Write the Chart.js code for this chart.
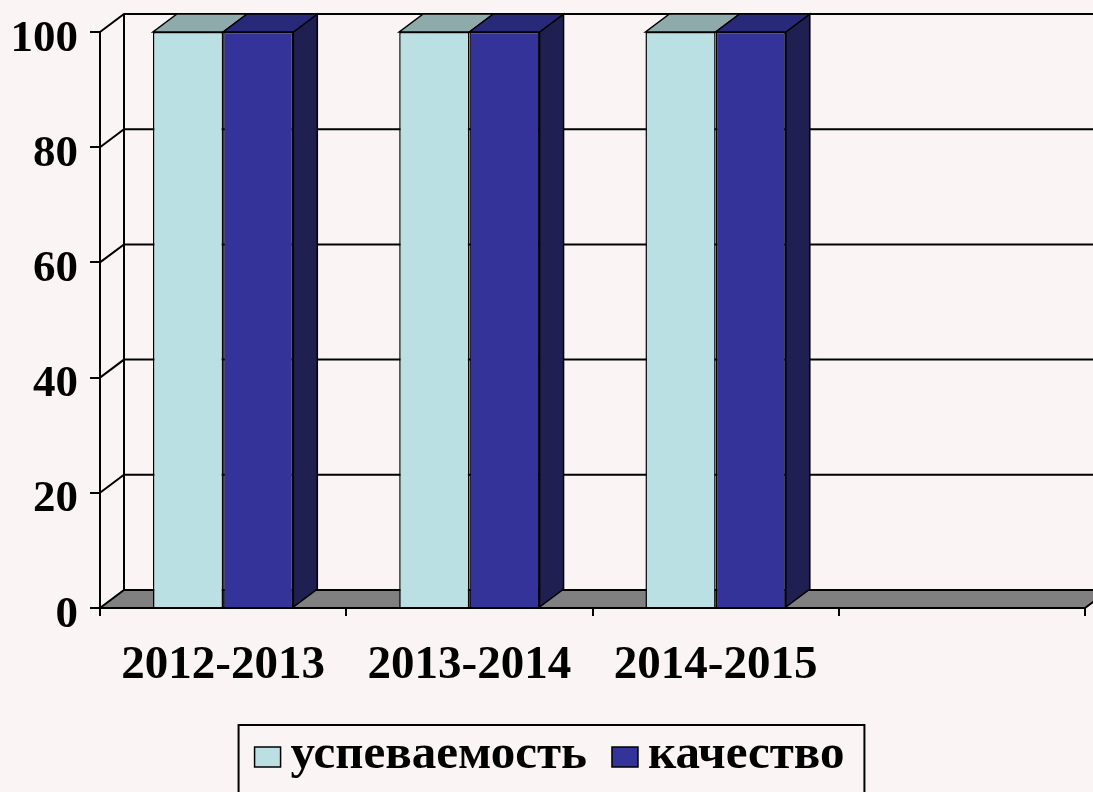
<!DOCTYPE html>
<html>
<head>
<meta charset="utf-8">
<script src="https://cdn.jsdelivr.net/npm/chart.js@4.4.1/dist/chart.umd.min.js"></script>
<style>
    html, body { margin: 0; padding: 0; background: #fbf4f4; }
    canvas { display: block; }
</style>
</head>
<body>
<canvas id="chart" width="1093" height="792"></canvas>
<script>
// Data
const categories = ['2012-2013', '2013-2014', '2014-2015', ''];
const uspevaemost = [100, 100, 100, null];
const kachestvo = [100, 100, 100, null];
const yTicks = [0, 20, 40, 60, 80, 100];

// 3D look
const depth = { dx: 24, dy: -18 };
const faces = [
    { front: '#bbe0e3', top: '#8faaab', side: '#7f9fa1' },
    { front: '#333399', top: '#29297a', side: '#1f1f52' }
];
const serif = "'Liberation Serif', 'Times New Roman', serif";

const threeD = {
    id: 'threeD',
    beforeDraw(chart) {
        const { ctx, chartArea: a, scales: { y } } = chart;
        const { dx, dy } = depth;
        ctx.save();
        ctx.fillStyle = '#fbf4f4';
        ctx.fillRect(0, 0, chart.width, chart.height);

        ctx.strokeStyle = '#000';
        ctx.lineWidth = 2;
        // back wall grid lines
        yTicks.forEach(v => {
            if (v === 0) return;
            const yy = y.getPixelForValue(v);
            ctx.beginPath();
            ctx.moveTo(a.left, yy);
            ctx.lineTo(a.left + dx, yy + dy);
            ctx.lineTo(a.right + dx, yy + dy);
            ctx.stroke();
        });
        ctx.beginPath();
        ctx.moveTo(a.left + dx, a.top + dy);
        ctx.lineTo(a.left + dx, a.bottom + dy);
        ctx.stroke();

        // floor
        ctx.beginPath();
        ctx.moveTo(a.left, a.bottom);
        ctx.lineTo(a.right, a.bottom);
        ctx.lineTo(a.right + dx, a.bottom + dy);
        ctx.lineTo(a.left + dx, a.bottom + dy);
        ctx.closePath();
        ctx.fillStyle = '#808080';
        ctx.fill();
        ctx.stroke();
        ctx.restore();
    },
    afterDatasetsDraw(chart) {
        const { ctx } = chart;
        const { dx, dy } = depth;
        const last = chart.data.datasets.length - 1;
        ctx.save();
        ctx.strokeStyle = '#000';
        ctx.lineWidth = 1.5;
        chart.data.datasets.forEach((ds, di) => {
            const f = faces[di];
            chart.getDatasetMeta(di).data.forEach((el, i) => {
                if (ds.data[i] == null) return;
                const { x, y, base, width } = el.getProps(['x', 'y', 'base', 'width'], true);
                const x0 = x - width / 2, x1 = x + width / 2;
                // side face, only visible on the rightmost bar
                if (di === last) {
                    ctx.beginPath();
                    ctx.moveTo(x1, y);
                    ctx.lineTo(x1 + dx, y + dy);
                    ctx.lineTo(x1 + dx, base + dy);
                    ctx.lineTo(x1, base);
                    ctx.closePath();
                    ctx.fillStyle = f.side;
                    ctx.fill();
                    ctx.stroke();
                }
                // top face
                ctx.beginPath();
                ctx.moveTo(x0, y);
                ctx.lineTo(x1, y);
                ctx.lineTo(x1 + dx, y + dy);
                ctx.lineTo(x0 + dx, y + dy);
                ctx.closePath();
                ctx.fillStyle = f.top;
                ctx.fill();
                ctx.stroke();
            });
        });
        ctx.restore();
    },
    afterDraw(chart) {
        // legend box
        const { ctx } = chart;
        ctx.save();
        ctx.font = 'bold 49px ' + serif;
        ctx.textBaseline = 'alphabetic';
        const box = { w: 26, h: 20, gap: 10, itemGap: 25 };
        const items = chart.data.datasets.map((ds, i) => ({
            text: ds.label, color: faces[i].front, w: ctx.measureText(ds.label).width
        }));
        const total = items.reduce((s, it) => s + box.w + box.gap + it.w, 0) + box.itemGap * (items.length - 1);
        let x = chart.width / 2 - total / 2 + 3;
        const top = 725;
        ctx.lineWidth = 2;
        ctx.strokeStyle = '#000';
        ctx.strokeRect(x - 16, top, total + 36, 100);
        items.forEach(it => {
            ctx.fillStyle = it.color;
            ctx.fillRect(x, 747, box.w, box.h);
            ctx.lineWidth = 1.5;
            ctx.strokeRect(x, 747, box.w, box.h);
            x += box.w + box.gap;
            ctx.fillStyle = '#000';
            ctx.fillText(it.text, x, 768);
            x += it.w + box.itemGap;
        });
        ctx.restore();
    }
};

new Chart(document.getElementById('chart'), {
    type: 'bar',
    data: {
        labels: categories,
        datasets: [{
            label: 'успеваемость',
            data: uspevaemost,
            backgroundColor: faces[0].front,
            borderColor: '#000',
            borderWidth: 1.5
        }, {
            label: 'качество',
            data: kachestvo,
            backgroundColor: faces[1].front,
            borderColor: '#000',
            borderWidth: 1.5
        }]
    },
    options: {
        responsive: false,
        animation: false,
        devicePixelRatio: 1,
        categoryPercentage: 0.57,
        barPercentage: 1,
        layout: { padding: { top: 32, right: 8, left: 0, bottom: 0 } },
        plugins: {
            legend: { display: false },
            tooltip: { enabled: false }
        },
        scales: {
            y: {
                min: 0,
                max: 100,
                afterFit(scale) {
                    scale.width = 100;
                    scale.paddingTop = 0;
                    scale.paddingBottom = 0;
                },
                afterBuildTicks(scale) { scale.ticks = yTicks.map(v => ({ value: v })); },
                grid: { drawOnChartArea: false, color: '#000', lineWidth: 2, tickLength: 10 },
                border: { display: true, color: '#000', width: 2 },
                ticks: {
                    color: '#000',
                    padding: 12,
                    labelOffset: 7,
                    font: { family: serif, size: 45, weight: 'bold' }
                }
            },
            x: {
                afterFit(scale) {
                    scale.height = 184;
                    scale.paddingLeft = 0;
                    scale.paddingRight = 0;
                },
                grid: { drawOnChartArea: false, offset: true, color: '#000', lineWidth: 2, tickLength: 8 },
                border: { display: true, color: '#000', width: 2 },
                ticks: {
                    color: '#000',
                    padding: 22,
                    maxRotation: 0,
                    font: { family: serif, size: 47, weight: 'bold' }
                }
            }
        }
    },
    plugins: [threeD]
});
</script>
</body>
</html>
